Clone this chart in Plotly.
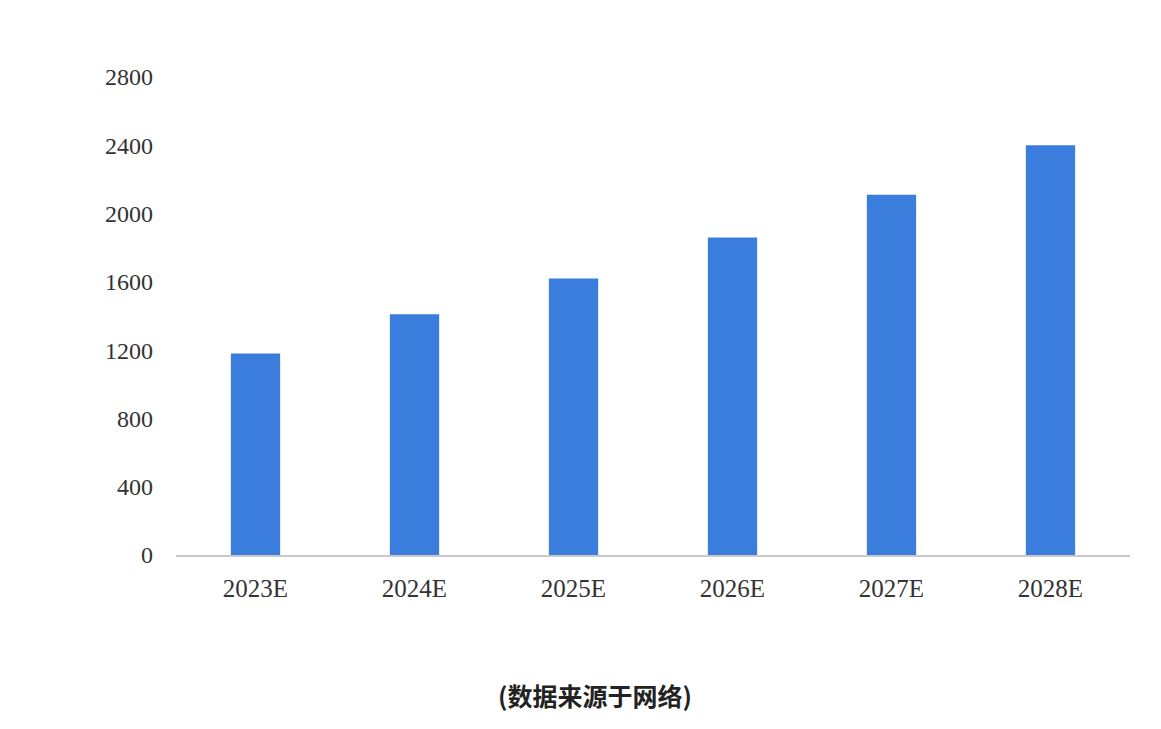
import plotly.graph_objects as go

categories = ["2023E", "2024E", "2025E", "2026E", "2027E", "2028E"]
values = [1180, 1410, 1620, 1860, 2110, 2400]
y_ticks = [0, 400, 800, 1200, 1600, 2000, 2400, 2800]
caption = "(数据来源于网络)"

W, H = 1161, 729
L, R, T, B = 168, 39, 69, 182
pw, ph = W - L - R, H - T - B

fig = go.Figure(
    go.Bar(
        x=categories,
        y=values,
        marker=dict(color="#3b7ddc", line=dict(width=0)),
        hoverinfo="x+y",
    )
)

fig.update_layout(
    width=W,
    height=H,
    paper_bgcolor="white",
    plot_bgcolor="white",
    margin=dict(l=L, r=R, t=T, b=B),
    bargap=0.69,
    showlegend=False,
    font=dict(family="Liberation Serif, DejaVu Serif, serif", size=24, color="#333333"),
    xaxis=dict(
        showgrid=False,
        showline=True,
        linecolor="#c9c9c9",
        linewidth=1.5,
        ticks="",
        ticklabelstandoff=10,
        tickfont=dict(size=25, color="#333333"),
    ),
    yaxis=dict(
        range=[0, 2800],
        tickvals=y_ticks,
        ticktext=[str(v) for v in y_ticks],
        showgrid=False,
        zeroline=False,
        showline=False,
        ticks="",
        ticklabelstandoff=22,
        tickfont=dict(size=24, color="#333333"),
    ),
    annotations=[
        dict(
            text="<b>" + caption + "</b>",
            x=(587 - L) / pw,
            y=(H - B - 687) / ph,
            xref="paper",
            yref="paper",
            xanchor="center",
            yanchor="middle",
            showarrow=False,
            font=dict(family="Noto Sans CJK SC", size=25, color="#222222"),
        )
    ],
)

fig.write_html("out.html")
